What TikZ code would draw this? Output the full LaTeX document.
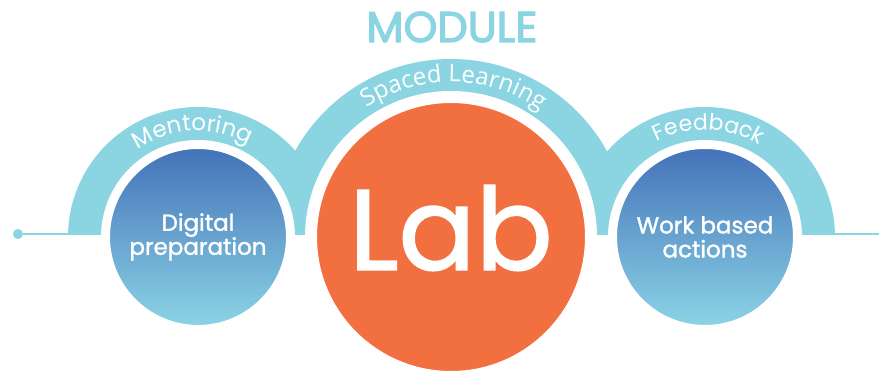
\documentclass[tikz,border=0pt]{standalone}
\usepackage{fontspec}
\setmainfont{Poppins}
\newfontfamily\medfont{Poppins}[FakeBold=1.5]
\newfontfamily\titlefont{Poppins}[FakeBold=3]
\newfontfamily\opensans{Open Sans}
\usetikzlibrary{decorations.text}

\definecolor{bandblue}{RGB}{139,213,227}
\definecolor{laborange}{RGB}{242,112,64}
\definecolor{topblue}{RGB}{66,113,184}
\definecolor{botblue}{RGB}{141,213,230}

\tikzset{
  band/.style={fill=bandblue},
  ball/.style={circle, draw=white, inner sep=0pt, text=white, align=center},
  bluegrad/.style={ball, top color=topblue, bottom color=botblue,
    minimum size=185pt, line width=9pt, font=\medfont\fontsize{23}{24}\selectfont},
  arctext/.style={decorate, decoration={text along path, text align=center,
    text color=white, text={#1}}}
}

\begin{document}
\begin{tikzpicture}[x=1pt, y=1pt]

\def\width{879}
\def\height{371}
\def\base{136}
\def\cy{134}

\path [use as bounding box] (0,0) rectangle (\width,\height);

\coordinate (lc) at (198,\cy);
\coordinate (mc) at (451,\cy);
\coordinate (rc) at (705,\cy);

% BANDS
\begin{scope}
\clip (0,\base) rectangle (\width,\height);
\fill [band] (lc) circle (130) (mc) circle (178) (rc) circle (130);
\end{scope}

% LINES
\node [circle, fill=bandblue, minimum size=10pt, inner sep=0pt] (dot) at (18,137) {};
\coordinate (lend) at (69,137);
\coordinate (rend) at (834,137);
\coordinate (edge) at (\width,137);
\draw [bandblue, line width=2pt] (dot) -- (lend);
\draw [bandblue, line width=2pt] (rend) -- (edge);

% CIRCLES
\node [bluegrad] (prep) at (lc) {Digital\\preparation};
\node [ball, fill=laborange, minimum size=280pt, line width=12pt] (lab) at (mc) {};
\node [text=white, font=\medfont\fontsize{114}{114}\selectfont] (labword) at ([yshift=9pt]lab.center) {Lab};
\node [bluegrad] (work) at (rc) {Work based\\actions};

% LABELS
\node [text=bandblue, font=\titlefont\fontsize{43}{43}\selectfont] (title) at (452,344) {MODULE};
\path [arctext={|\fontsize{23}{23}\selectfont|Mentoring}]
  (lc) ++(153:106) arc [start angle=153, end angle=33, radius=106];
\path [arctext={|\opensans\fontsize{24}{24}\selectfont|Spaced Learning}]
  (mc) ++(149:155) arc [start angle=149, end angle=29, radius=155];
\path [arctext={|\fontsize{22}{22}\selectfont|Feedback}]
  (rc) ++(148:107) arc [start angle=148, end angle=28, radius=107];

\end{tikzpicture}
\end{document}
